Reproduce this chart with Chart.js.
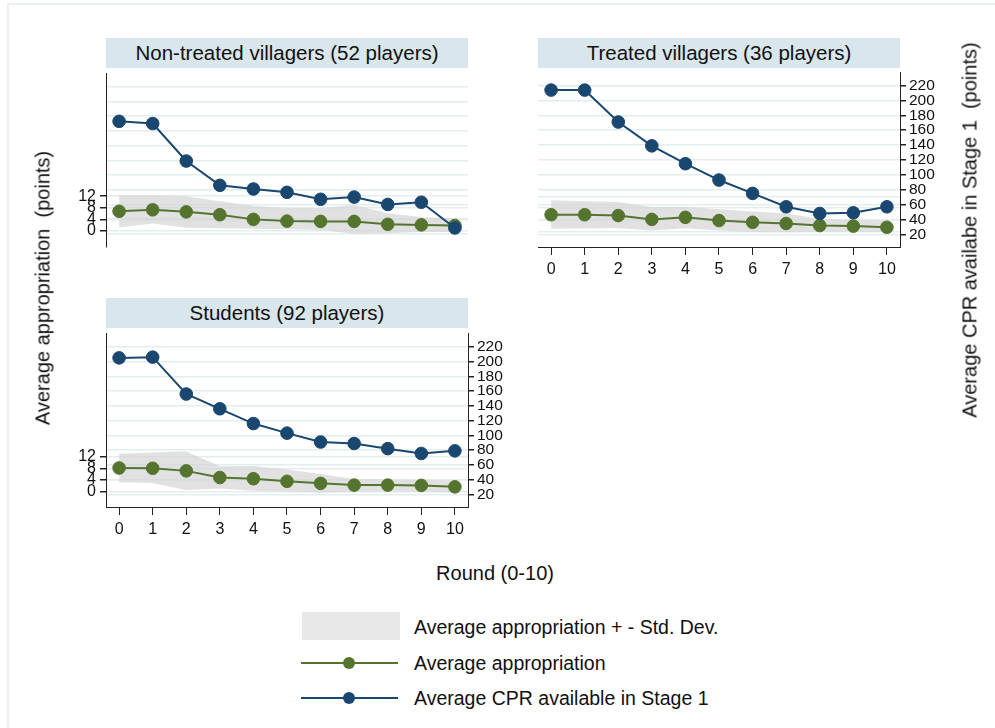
<!DOCTYPE html>
<html>
<head>
<meta charset="utf-8">
<script src="https://cdn.jsdelivr.net/npm/chart.js@4.4.1/dist/chart.umd.min.js"></script>
<style>
body { margin: 0; width: 995px; height: 728px; position: relative; overflow: hidden; background: #fff;
	font-family: 'Liberation Sans', Arial, Helvetica, sans-serif; color: #111; }
.frame { position: absolute; left: 7px; top: 3px; width: 1100px; height: 900px; border: 2px solid #eaf1f3; }
.strip { position: absolute; background: #d9e6eb; font-size: 20.5px; text-align: center; line-height: 30px; height: 30px; }
.box { position: absolute; }
.title { position: absolute; font-size: 20px; white-space: pre; }
.leg { position: absolute; font-size: 19.5px; left: 414px; white-space: pre; line-height: 24px; }
.dot { position: absolute; width: 12px; height: 12px; border-radius: 6px; }
.lline { position: absolute; height: 2px; left: 301px; width: 97px; }
</style>
</head>
<body>
<div class="frame"></div>

<div class="strip" style="left:106px; top:38px; width:362px;">Non-treated villagers (52 players)</div>
<div class="strip" style="left:538px; top:38px; width:362px;">Treated villagers (36 players)</div>
<div class="strip" style="left:106px; top:298px; width:362px;">Students (92 players)</div>

<div class="box" style="left:40px; top:60px; width:460px; height:200px;"><canvas id="c1" width="460" height="200"></canvas></div>
<div class="box" style="left:500px; top:60px; width:495px; height:240px;"><canvas id="c2" width="495" height="240"></canvas></div>
<div class="box" style="left:40px; top:320px; width:495px; height:240px;"><canvas id="c3" width="495" height="240"></canvas></div>

<div class="title" style="left:43px; top:288px; transform: translate(-50%,-50%) rotate(-90deg);">Average appropriation  (points)</div>
<div class="title" style="left:970px; top:230px; transform: translate(-50%,-50%) rotate(-90deg);">Average CPR availabe in Stage 1  (points)</div>
<div class="title" style="left:495px; top:573px; transform: translate(-50%,-50%);">Round (0-10)</div>

<div class="box" style="left:302px; top:612px; width:98px; height:28px; background:#e8e8e8;"></div>
<div class="leg" style="top:615px;">Average appropriation + - Std. Dev.</div>
<div class="lline" style="top:662px; background:#55752f;"></div>
<div class="dot" style="left:343px; top:657px; background:#55752f;"></div>
<div class="leg" style="top:651px;">Average appropriation</div>
<div class="lline" style="top:697px; background:#1a476f;"></div>
<div class="dot" style="left:343px; top:692px; background:#1a476f;"></div>
<div class="leg" style="top:686px;">Average CPR available in Stage 1</div>

<script>
var rounds = [0, 1, 2, 3, 4, 5, 6, 7, 8, 9, 10];
var leftTicks = [0, 4, 8, 12];
var rightTicks = [20, 40, 60, 80, 100, 120, 140, 160, 180, 200, 220];

// Non-treated villagers
var nonTreatedAppr = [6.8, 7.3, 6.6, 5.6, 4.0, 3.4, 3.3, 3.3, 2.3, 2.1, 1.9];
var nonTreatedUpper = [12.3, 12.3, 12.0, 10.3, 8.6, 7.9, 7.9, 9.0, 6.1, 4.8, 4.2];
var nonTreatedLower = [1.2, 2.6, 1.1, 0.9, 0.8, 0.6, 0.3, -1.0, -0.8, -0.4, -0.4];
var nonTreatedCpr = [173, 170, 119, 86, 81, 76.5, 67, 70, 60, 63, 28];

// Treated villagers
var treatedAppr = [5.7, 5.7, 5.4, 4.1, 4.8, 3.7, 3.1, 2.7, 2.0, 1.8, 1.4];
var treatedUpper = [10.6, 10.3, 10.0, 8.3, 8.3, 7.6, 6.8, 6.1, 4.2, 3.9, 3.7];
var treatedLower = [0.9, 1.1, 1.2, 0.3, 1.1, 0.3, -0.2, -0.3, -0.1, -0.1, -0.2];
var treatedCpr = [214, 214, 171, 139, 115, 93, 75, 57, 48, 49, 57];

// Students
var studentsAppr = [8.1, 8.0, 7.1, 4.8, 4.4, 3.5, 2.8, 2.2, 2.2, 2.1, 1.6];
var studentsUpper = [13.0, 13.4, 13.8, 8.7, 8.8, 7.6, 6.0, 4.3, 4.1, 4.0, 3.8];
var studentsLower = [3.2, 2.9, 0.5, 1.0, 0.3, 0.0, -0.3, -0.1, 0.0, 0.0, -0.3];
var studentsCpr = [205, 206, 156, 136, 116, 103, 91, 89, 82, 75.5, 79];

var green = '#55752f';
var blue = '#1a476f';
var gridColor = '#e3edf0';
var font = "'Liberation Sans', Arial, sans-serif";

function pts(arr){
	return arr.map((v, i) => ({x: rounds[i], y: v}));
}

function makePanel(id, appr, upper, lower, cpr, show){
	return new Chart(document.getElementById(id), {
		type: 'line',
		data: {
			datasets: [
				{data: pts(lower), yAxisID: 'y', borderWidth: 0, pointRadius: 0, fill: false, order: 3},
				{data: pts(upper), yAxisID: 'y', borderWidth: 0, pointRadius: 0, fill: '-1',
					backgroundColor: 'rgba(212,212,212,0.7)', order: 3},
				{data: pts(appr), yAxisID: 'y', borderColor: green, backgroundColor: green, borderWidth: 2,
					pointRadius: 6.3, pointBorderWidth: 1, order: 2},
				{data: pts(cpr), yAxisID: 'y1', borderColor: blue, backgroundColor: blue, borderWidth: 2,
					pointRadius: 6.3, pointBorderWidth: 1, order: 1},
			]
		},
		options: {
			responsive: false,
			animation: false,
			events: [],
			layout: {padding: show.padding},
			plugins: {legend: {display: false}, tooltip: {enabled: false}},
			scales: {
				x: {
					type: 'linear', min: -0.39, max: 10.39, display: show.x,
					afterBuildTicks: s => { s.ticks = rounds.map(v => ({value: v})); },
					afterFit: s => { s.height = show.x ? 53 : 0; },
					grid: {drawOnChartArea: false, color: '#222', tickLength: 8},
					border: {color: '#222', width: 1},
					ticks: {color: '#111', font: {family: font, size: 16}, padding: 5, autoSkip: false, maxRotation: 0},
				},
				y: {
					position: 'left', min: -5.33, max: 54.33,
					afterBuildTicks: s => { s.ticks = leftTicks.map(v => ({value: v})); },
					afterFit: s => { s.width = show.left ? 66 : 0; },
					grid: {color: gridColor, lineWidth: 1.5, tickColor: '#222', tickLength: 6, drawTicks: show.left},
					border: {display: show.left, color: '#222', width: 1},
					ticks: {display: show.left, color: '#111', font: {family: font, size: 16}, padding: 4, autoSkip: false},
				},
				y1: {
					position: 'right', min: 2.93, max: 237.9,
					afterBuildTicks: s => { s.ticks = rightTicks.map(v => ({value: v})); },
					afterFit: s => { s.width = show.right ? show.rightWidth : 0; },
					grid: {color: gridColor, lineWidth: 1.5, tickColor: '#222', tickLength: 6, drawTicks: show.right},
					border: {display: show.right, color: '#222', width: 1},
					ticks: {display: show.right, color: '#111', font: {family: font, size: 15.5}, padding: 3, autoSkip: false},
				},
			}
		}
	});
}

makePanel('c1', nonTreatedAppr, nonTreatedUpper, nonTreatedLower, nonTreatedCpr,
	{x: false, left: true, right: false, padding: {top: 8, right: 32, bottom: 13, left: 0}});
makePanel('c2', treatedAppr, treatedUpper, treatedLower, treatedCpr,
	{x: true, left: false, right: true, rightWidth: 95, padding: {top: 8, right: 0, bottom: 0, left: 38}});
makePanel('c3', studentsAppr, studentsUpper, studentsLower, studentsCpr,
	{x: true, left: true, right: true, rightWidth: 67, padding: {top: 8, right: 0, bottom: 0, left: 0}});
</script>
</body>
</html>
